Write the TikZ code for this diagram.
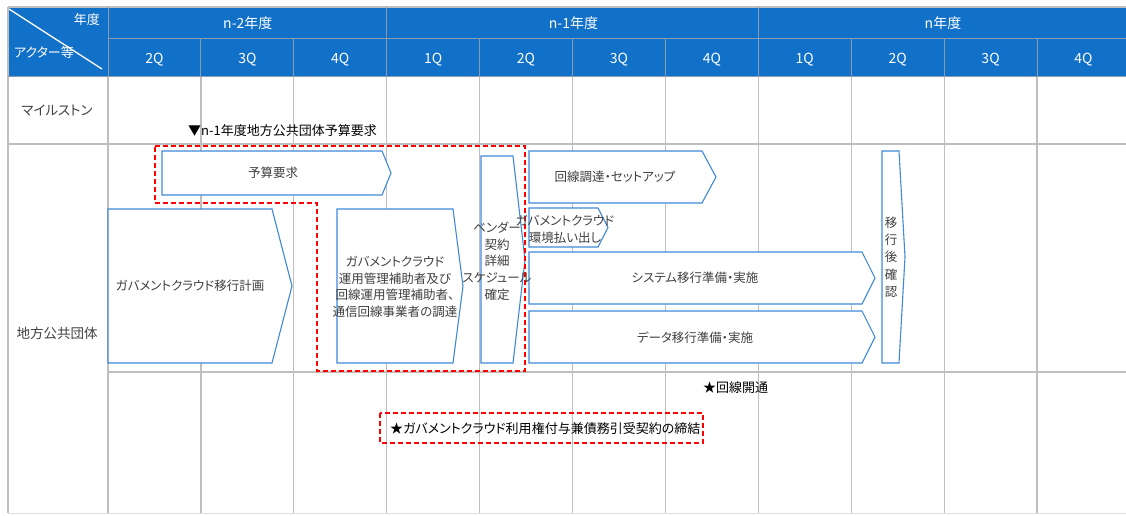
\documentclass[tikz,border=0pt]{standalone}
\usepackage{fontspec}
\setmainfont{Noto Sans CJK JP}[RawFeature={+palt}]
\definecolor{hdr}{HTML}{1170C8}
\definecolor{hdrline}{HTML}{8A9BB0}
\definecolor{gridc}{HTML}{BFBFBF}
\definecolor{shp}{HTML}{3F8AD8}
\definecolor{txt}{HTML}{404040}
\tikzset{
  gridline/.style={draw=gridc, line width=1.2pt},
  hline/.style={draw=hdrline, line width=1pt},
  chev/.style={draw=shp, fill=white, line width=1.1pt, line join=miter},
  reddash/.style={draw=red, line width=1.7pt, dash pattern=on 5pt off 3pt},
  lbl/.style={text=txt, font=\fontsize{12.5}{16.7}\selectfont, align=center, inner sep=0pt},
  hdrtxt/.style={text=white, font=\fontsize{14}{16}\selectfont, inner sep=0pt},
  msl/.style={text=black, font=\fontsize{13}{15}\selectfont, inner sep=0pt},
  sidelbl/.style={text=txt, font=\fontsize{13.5}{16}\selectfont, inner sep=0pt},
}
\begin{document}
\begin{tikzpicture}[x=1pt,y=-1pt]
\useasboundingbox (0,0) rectangle (1126,515);
% header background
\fill[hdr] (8,7) rectangle (1130,76);
% body grid
\foreach \i in {1,...,10} {
  \draw[gridline] ({108+92.9*\i},76) -- ({108+92.9*\i},513);
}
\draw[gridline] (108,76) -- (108,513);
\draw[gridline] (8,144) -- (1130,144);
\draw[gridline] (108,372) -- (1130,372);
\draw[draw=gridc!50, line width=1pt] (8,513.5) -- (1130,513.5);
\draw[gridline] (8,7) -- (8,513);
\draw[gridline] (8,7) -- (1130,7);
% header grid
\draw[hline] (108,38) -- (1130,38);
\draw[hline] (8,76) -- (1130,76);
\draw[hline] (108,7) -- (108,76);
\foreach \i in {1,...,10} {
  \draw[hline] ({108+92.9*\i},38) -- ({108+92.9*\i},76);
}
\draw[hline] ({108+92.9*3},7) -- ({108+92.9*3},38);
\draw[hline] ({108+92.9*7},7) -- ({108+92.9*7},38);
\draw[white, line width=1.3pt] (9,9) -- (102,69);
% header texts
\node[hdrtxt, anchor=east, font=\fontsize{13}{15}\selectfont] (nendo) at (100,20) {年度};
\node[hdrtxt, font=\fontsize{13}{15}\selectfont] (actor) at (44,53) {アクター等};
\node[hdrtxt] (y2) at (247.8,23) {n-2年度};
\node[hdrtxt] (y1) at (573.5,23) {n-1年度};
\node[hdrtxt] (y0) at (943,23) {n年度};
\foreach \q/\lab [count=\k from 0] in {a/2Q,b/3Q,c/4Q,d/1Q,e/2Q,f/3Q,g/4Q,h/1Q,i/2Q,j/3Q,k/4Q} {
  \node[hdrtxt] (q\q) at ({108+92.9*(\k+0.5)},60) {\lab};
}
% side labels
\node[sidelbl] (ms) at (57,111) {マイルストン};
\node[sidelbl] (lg) at (57,333) {地方公共団体};
% chevrons
\draw[chev] (162,151) -- (382,151) -- (391,173) -- (382,195) -- (162,195) -- cycle;
\draw[chev] (108,209) -- (272,209) -- (292,286) -- (272,363) -- (108,363) -- cycle;
\draw[chev] (337,209) -- (453,209) -- (463,286) -- (453,363) -- (337,363) -- cycle;
\draw[chev] (481,156) -- (513,156) -- (525,260) -- (513,363) -- (481,363) -- cycle;
\draw[chev] (529,151) -- (702,151) -- (716,177) -- (702,203) -- (529,203) -- cycle;
\draw[chev] (529,208) -- (598,208) -- (608,227.5) -- (598,247) -- (529,247) -- cycle;
\draw[chev] (529,252) -- (862,252) -- (875,278) -- (862,304) -- (529,304) -- cycle;
\draw[chev] (529,311) -- (862,311) -- (875,337) -- (862,363) -- (529,363) -- cycle;
\draw[chev] (882,151) -- (899,151) -- (905,257) -- (899,363) -- (882,363) -- cycle;
% red dashed regions
\draw[reddash] (155,146) -- (525,146) -- (525,371) -- (317,371) -- (317,203) -- (155,203) -- cycle;
\draw[reddash] (380,413) rectangle (703,443);
% chevron texts
\node[lbl] (yosan) at (273,173) {予算要求};
\node[lbl] (keikaku) at (190,286) {ガバメントクラウド移行計画};
\node[lbl] (chotatsu) at (395,287) {ガバメントクラウド\\運用管理補助者及び\\回線運用管理補助者、\\通信回線事業者の調達};
\node[lbl] (vendor) at (497,261) {ベンダー\\契約\\詳細\\スケジュール\\確定};
\node[lbl] (kaisen) at (615,177) {回線調達・セットアップ};
\node[lbl] (kankyo) at (565,229) {ガバメントクラウド\\環境払い出し};
\node[lbl] (system) at (695,278) {システム移行準備・実施};
\node[lbl] (data) at (695,338) {データ移行準備・実施};
\node[lbl, font=\fontsize{12.5}{17.3}\selectfont] (kakunin) at (891,257) {移\\行\\後\\確\\認};
% milestones
\node[msl, anchor=west] (m1) at (188,131) {▼n-1年度地方公共団体予算要求};
\node[msl, anchor=west] (m2) at (703,388) {★回線開通};
\node[msl, anchor=west] (m3) at (390,429) {★ガバメントクラウド利用権付与兼債務引受契約の締結};
\end{tikzpicture}
\end{document}
